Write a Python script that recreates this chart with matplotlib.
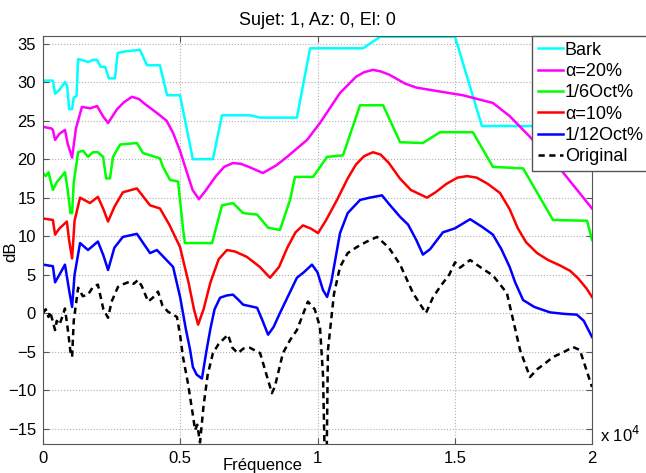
import numpy as np
import matplotlib
matplotlib.use("Agg")
import matplotlib.pyplot as plt

plt.rcParams['font.family'] = ['Liberation Sans', 'DejaVu Sans']

########################################
# Curves (freq in kHz, level in dB)
########################################
bark_f = [0, 0.36, 0.44, 0.6, 0.8, 0.88, 0.95, 1.06, 1.12, 1.22, 1.28, 1.5, 1.64, 1.82, 1.97, 2.1,
          2.26, 2.4, 2.62, 2.72, 3.0, 3.53, 3.79, 4.26, 4.52, 4.99, 5.46, 6.19, 6.52, 7.54, 7.91,
          9.25, 9.73, 11.66, 12.28, 15.01, 15.99, 20]
bark_db = [30.2, 30.2, 28.5, 29, 30, 29.5, 26.5, 26.5, 28, 28.2, 33, 32.8, 32.6, 32.9, 32.9, 32,
           32, 30.5, 30.5, 33.8, 34, 34.2, 32.2, 32.2, 28.3, 28.3, 20, 20, 25.7, 25.7, 25.4,
           25.4, 34.4, 34.4, 35.9, 35.9, 24.3, 24.3]

a20_f = [0, 0.3, 0.36, 0.44, 0.6, 0.8, 0.9, 1.06, 1.2, 1.42, 1.71, 1.97, 2.2, 2.37, 2.7, 2.95,
         3.24, 3.5, 3.7, 4.15, 4.5, 4.74, 5.0, 5.25, 5.45, 5.68, 5.9, 6.3, 6.6, 6.92, 7.2, 7.5,
         8.01, 8.5, 8.89, 9.62, 10.09, 10.82, 11.4, 11.7, 12.02, 12.3, 12.6, 13.2, 13.6, 14.1,
         15.3, 16.39, 17.0, 17.74, 18.94, 20]
a20_db = [24.2, 24, 23.8, 22.5, 23.3, 23.8, 22, 20.2, 24, 26.8, 26.6, 26.9, 25.5, 24.7, 26.5, 27.4,
          28.1, 27.8, 27.2, 26.0, 25, 23.4, 21, 18.2, 16, 14.8, 15.8, 17.8, 19.0, 19.5, 19.4, 19,
          18.2, 19.2, 20.3, 22.5, 24.7, 28.6, 30.7, 31.3, 31.6, 31.4, 31, 29.8, 29.3, 29.0,
          28.3, 27.3, 25.6, 22.9, 18.3, 13.6]

oct6_f = [0, 0.1, 0.2, 0.36, 0.5, 0.8, 0.9, 1.0, 1.06, 1.12, 1.28, 1.46, 1.64, 1.82, 2.0, 2.19,
          2.3, 2.44, 2.55, 2.81, 3.42, 3.64, 4.26, 4.37, 4.63, 4.92, 5.1, 5.17, 6.16, 6.52, 6.92,
          7.29, 7.8, 8.2, 8.63, 9.0, 9.18, 9.84, 10.35, 10.93, 11.55, 12.39, 13.01, 13.84, 14.46,
          15.66, 16.39, 17.49, 18.58, 19.82, 20]
oct6_db = [18.2, 17.8, 18.3, 16, 17, 18.3, 16, 13.0, 13.0, 17, 20.9, 21.1, 20.3, 20.9, 20.9, 20.3,
           17.5, 17.5, 20.3, 21.9, 22.1, 20.8, 20.1, 19.0, 17.3, 17.1, 11, 9.1, 9.1, 14.0, 14.3,
           13.0, 12.8, 11.1, 10.8, 14.7, 17.7, 17.7, 20.3, 20.5, 27.0, 27.0, 22.2, 22.1, 23.5,
           23.5, 19.0, 18.8, 12.1, 12.0, 9.5]

a10_f = [0, 0.36, 0.44, 0.6, 0.87, 0.95, 1.06, 1.15, 1.35, 1.71, 2.0, 2.2, 2.37, 2.6, 2.91, 3.42,
         3.9, 4.26, 4.6, 4.99, 5.3, 5.5, 5.65, 5.85, 6.1, 6.4, 6.7, 7.0, 7.43, 7.9, 8.27, 8.6,
         8.9, 9.2, 9.47, 9.75, 10.02, 10.3, 10.71, 11.1, 11.4, 11.7, 12.02, 12.3, 12.6, 13.0,
         13.4, 13.99, 14.3, 14.7, 15.1, 15.45, 15.8, 16.2, 16.65, 17.0, 17.3, 17.6, 18.0, 18.4,
         18.83, 19.2, 19.5, 19.8, 20]
a10_db = [12.3, 12.1, 10.2, 11, 11.9, 9.5, 7.1, 12, 15.0, 14.3, 15.1, 13.5, 11.9, 13.8, 15.7, 16.2,
          14.0, 13.6, 11.5, 8.6, 4, 0.5, -1.5, 0.5, 4, 7, 8.2, 8.0, 7.3, 6, 4.6, 6,
          8.5, 10.5, 11.4, 11.0, 10.4, 12, 14.7, 17.5, 19.3, 20.4, 20.9, 20.6, 19.5, 17.5,
          16.0, 15.0, 15.7, 16.8, 17.6, 17.8, 17.6, 16.8, 15.6, 13.5, 11, 9.2, 7.8, 6.9,
          6.2, 5.5, 4.5, 3.2, 2.1]

oct12_f = [0, 0.36, 0.44, 0.6, 0.8, 0.95, 1.06, 1.15, 1.35, 1.64, 2.0, 2.2, 2.37, 2.6, 2.91, 3.42,
           3.9, 4.15, 4.74, 5.0, 5.2, 5.36, 5.46, 5.6, 5.79, 5.95, 6.1, 6.25, 6.45, 6.7, 6.92,
           7.1, 7.29, 7.8, 8.0, 8.2, 8.4, 8.63, 8.9, 9.25, 9.5, 9.8, 10.0, 10.2, 10.35, 10.5,
           10.82, 11.1, 11.55, 11.9, 12.35, 12.6, 13.01, 13.3, 13.6, 13.84, 14.1, 14.57, 15.0,
           15.56, 16.0, 16.39, 16.7, 17.0, 17.2, 17.49, 17.9, 18.47, 19.0, 19.45, 19.7, 20]
oct12_db = [6.3, 6.1, 4.0, 5, 6.3, 3, 0.8, 5, 9.1, 8.2, 9.3, 7.5, 5.6, 8.5, 9.9, 10.3,
            7.8, 8.2, 6.0, 2, -2, -4.8, -7.0, -8.0, -8.5, -5, -2, 0.5, 2.0, 2.3, 2.4,
            1.8, 1.1, 0.7, -1, -2.8, -1.8, 0.0, 2, 4.6, 5.3, 6.3, 5.3, 3, 2.1, 4,
            10.4, 13, 14.7, 15.0, 15.3, 14.2, 12.5, 11.5, 9.5, 7.6, 8.3, 10.5, 11.0,
            12.2, 11.2, 10.2, 8.3, 6, 4, 1.7, 0.8, 0.1, -0.1, -0.2, -1, -3.1]

orig_f = [0, 0.1, 0.2, 0.26, 0.35, 0.44, 0.5, 0.6, 0.7, 0.8, 0.9, 1.0, 1.06, 1.12, 1.28, 1.45,
          1.64, 1.82, 2.0, 2.2, 2.37, 2.5, 2.73, 2.95, 3.17, 3.3, 3.46, 3.6, 3.83, 4.0, 4.19,
          4.35, 4.55, 4.88, 5.0, 5.1, 5.28, 5.45, 5.54, 5.62, 5.72, 5.85, 6.0, 6.19, 6.4, 6.74,
          6.9, 7.1, 7.3, 7.54, 7.91, 8.1, 8.34, 8.45, 8.74, 9.0, 9.25, 9.65, 9.9, 10.09, 10.2,
          10.27, 10.33, 10.38, 10.6, 10.82, 11.1, 11.44, 11.8, 12.17, 12.6, 13.01, 13.48, 13.95,
          14.2, 14.46, 14.8, 15.01, 15.19, 15.56, 16.0, 16.39, 16.9, 17.38, 17.74, 18.0, 18.3,
          18.58, 19.0, 19.31, 19.56, 20]
orig_db = [0, 0.5, -0.5, 0.2, -1.0, -2.2, -1.0, -1.5, -0.5, 0.6, -2, -5.0, -5.7, -1, 3.3, 2.2,
           2.4, 3.4, 3.7, 0.5, -0.6, 1.5, 3.4, 3.8, 4.1, 3.8, 4.3, 3.5, 1.5, 2.0, 2.8,
           1.0, 0.2, -0.5, -3, -5.7, -9.1, -13, -15.2, -14.5, -16.8, -12, -8, -5.2, -4, -2.8,
           -4.5, -5.2, -4.6, -4.5, -5.2, -7.5, -10.4, -9.5, -5.2, -3.5, -2.2, 1.5, 0.5, -1.8, -8,
           -20, -20, -4.8, 2.5, 6.0, 7.8, 8.6, 9.3, 9.9, 8.5, 6.3, 2.6, 0.0,
           2, 3.4, 5.0, 6.6, 5.9, 6.9, 5.8, 4.9, 2.6, -4.8, -8.3, -7.3, -6.5,
           -5.7, -5.0, -4.4, -4.8, -9.6]

labels = ["Bark", "α=20%", "1/6Oct%", "α=10%", "1/12Oct%", "Original"]
x_ticks = [0, 5, 10, 15, 20]
x_tick_labels = ["0", "0.5", "1", "1.5", "2"]
y_ticks = [-15, -10, -5, 0, 5, 10, 15, 20, 25, 30, 35]

########################################
# Plot
########################################
fig = plt.figure(figsize=(6.46, 4.73), dpi=100)
ax = fig.add_axes([43/646, 1 - 444/473, 549/646, 408/473])

lw = 1.8
ax.plot(bark_f, bark_db, color="#00ffff", lw=lw, label=labels[0])
ax.plot(a20_f, a20_db, color="#ff00ff", lw=lw, label=labels[1])
ax.plot(oct6_f, oct6_db, color="#00ff00", lw=lw, label=labels[2])
ax.plot(a10_f, a10_db, color="#ff0000", lw=lw, label=labels[3])
ax.plot(oct12_f, oct12_db, color="#0000ff", lw=lw, label=labels[4])
ax.plot(orig_f, orig_db, color="black", lw=lw, ls=(0, (2.5, 1.8)), label=labels[5])

ax.set_xlim(0, 20)
ax.set_ylim(-17, 36)
ax.set_xticks(x_ticks)
ax.set_xticklabels(x_tick_labels)
ax.set_yticks(y_ticks)
ax.tick_params(direction="in", top=True, right=True, labelsize=12, length=4,
               color="#555555", pad=5)
ax.grid(True, ls=":", color="#b0b0b0", lw=0.8)
for s in ax.spines.values():
    s.set_color("#555555")

ax.set_title("Sujet: 1, Az: 0, El: 0", fontsize=13, pad=8)
ax.set_ylabel("dB", fontsize=12)
ax.yaxis.set_label_coords(-0.045, 0.47)
ax.set_xlabel("Fréquence", fontsize=12)
ax.xaxis.set_label_coords(0.4, -0.035)
fig.text(600/646, 1 - 442/473, r"x 10$^{4}$", fontsize=12)

leg = ax.legend(loc="upper left", bbox_to_anchor=(532/646, 1 - 36/473),
                bbox_transform=fig.transFigure, fontsize=13, handlelength=1.4,
                handletextpad=0.1, labelspacing=0.24, borderpad=0.32,
                borderaxespad=0, fancybox=False, framealpha=1)
leg.get_frame().set_edgecolor("#555555")
leg.get_frame().set_linewidth(1.0)

fig.savefig("out.png", dpi=100)
